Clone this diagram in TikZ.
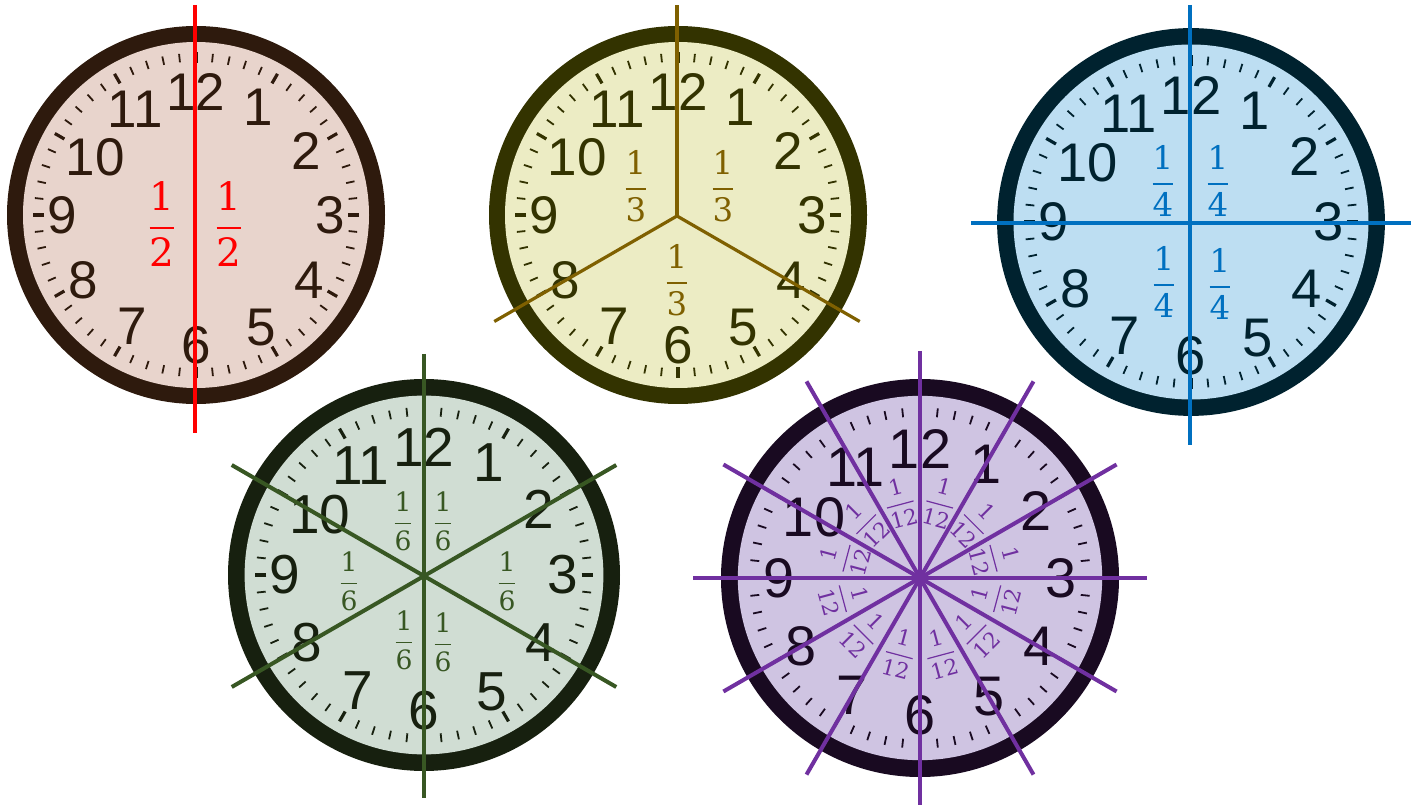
\documentclass[tikz,border=0pt]{standalone}
\usepackage{fontspec}
\usetikzlibrary{calc}
\newfontfamily\clockfont{Liberation Sans}
\newfontfamily\fracfont{DejaVu Serif}
\newcommand\numfont{\clockfont\fontsize{26.5}{26.5}\selectfont}
% #1 math size, #2 digit size, #3 numerator, #4 denominator, #5 bar thickness
\newcommand\fr[5]{\fontsize{#1}{#1}\selectfont$\displaystyle{\hbox{\fracfont\fontsize{#2}{#2}\selectfont #3}\above #5\hbox{\fracfont\fontsize{#2}{#2}\selectfont #4}}$}
\newcommand\frA[2]{\fr{21}{19.5}{#1}{#2}{1pt}}
\newcommand\frB[2]{\fr{18}{16.2}{#1}{#2}{0.85pt}}
\newcommand\frC[2]{\fr{18.5}{16.2}{#1}{#2}{0.85pt}}
\newcommand\frD[2]{\fr{15}{13.3}{#1}{#2}{0.75pt}}
\newcommand\frE[2]{\fr{12}{10.8}{#1}{#2}{0.6pt}}
\definecolor{ringA}{HTML}{2E1A0D}\definecolor{faceA}{HTML}{E8D4CC}\definecolor{lineA}{HTML}{FF0000}
\definecolor{ringB}{HTML}{333300}\definecolor{faceB}{HTML}{ECECC4}\definecolor{lineB}{HTML}{7F6000}
\definecolor{ringC}{HTML}{00222F}\definecolor{faceC}{HTML}{BDDEF2}\definecolor{lineC}{HTML}{0070C0}
\definecolor{ringD}{HTML}{17200F}\definecolor{faceD}{HTML}{D0DDD3}\definecolor{lineD}{HTML}{385723}
\definecolor{ringE}{HTML}{190A21}\definecolor{faceE}{HTML}{CFC4E2}\definecolor{lineE}{HTML}{7030A0}
% #1 name, #2 x px, #3 y px, #4 scale, #5 ring colour, #6 face colour
\newcommand\drawclock[6]{%
  \begin{scope}[shift={(#2,-#3)},scale=#4,transform shape]
    \fill[#5] (0,0) circle (189);
    \fill[#6] (0,0) circle (173);
    \foreach \i in {0,...,59}{%
      \pgfmathtruncatemacro\m{mod(\i,5)}%
      \ifnum\m=0
        \draw[#5,line width=1.6pt] (\i*6:152) -- (\i*6:163);
      \else
        \draw[#5,line width=0.9pt] (\i*6:153.5) -- (\i*6:162);
      \fi
    }
    \foreach \n/\f in {1/0.66,2/0.675,3/0.71,4/0.69,5/0.69,6/0.69,7/0.68,8/0.69,9/0.71,10/0.615,11/0.645,12/0.65}{%
      \node[text=#5,font=\numfont,inner sep=0pt] (#1n\n) at ({90-30*\n}:{189*\f}) {\n};
    }
  \end{scope}}
\tikzset{
  fracA/.style={text=lineA,inner sep=0pt},
  fracB/.style={text=lineB,inner sep=0pt},
  fracC/.style={text=lineC,inner sep=0pt},
  fracD/.style={text=lineD,inner sep=0pt},
  fracE/.style={text=lineE,inner sep=0pt},
  cutA/.style={lineA,line width=1.75pt},
  cutB/.style={lineB,line width=1.6pt},
  cutC/.style={lineC,line width=2pt},
  cutD/.style={lineD,line width=2pt},
  cutE/.style={lineE,line width=2pt},
}
\begin{document}
\begin{tikzpicture}[x=0.5pt,y=0.5pt]
\useasboundingbox (0,0) rectangle (1419,-807);
% clock faces
\drawclock{a}{196}{215}{1}{ringA}{faceA}
\drawclock{b}{678}{215}{1}{ringB}{faceB}
\drawclock{c}{1191}{222}{1.026}{ringC}{faceC}
\drawclock{d}{424}{575}{1.037}{ringD}{faceD}
\drawclock{e}{920}{578}{1.053}{ringE}{faceE}
% centres
\coordinate (A) at (196,-215);
\coordinate (B) at (677,-216);
\coordinate (C) at (1191,-222);
\coordinate (D) at (424,-576);
\coordinate (E) at (920,-578);
% halves
\draw[cutA] (195,-5) -- (195,-433);
\node[fracA] (a1) at ($(A)+(-34,-9)$) {\frA{1}{2}};
\node[fracA] (a2) at ($(A)+(33,-9)$) {\frA{1}{2}};
% thirds
\foreach \a in {90,210,-30} \draw[cutB] (B) -- ++(\a:211);
\node[fracB] (b1) at ($(B)+(-41,30)$) {\frB{1}{3}};
\node[fracB] (b2) at ($(B)+(46,30)$) {\frB{1}{3}};
\node[fracB] (b3) at ($(B)+(0,-64)$) {\frB{1}{3}};
% quarters
\draw[cutC] (1190,-5) -- (1190,-445);
\draw[cutC] (971,-223) -- (1411,-223);
\node[fracC] (c1) at ($(C)+(-28,41)$) {\frC{1}{4}};
\node[fracC] (c2) at ($(C)+(27,41)$) {\frC{1}{4}};
\node[fracC] (c3) at ($(C)+(-27,-60)$) {\frC{1}{4}};
\node[fracC] (c4) at ($(C)+(29,-62)$) {\frC{1}{4}};
% sixths
\foreach \a in {90,30,150} \draw[cutD] (D) ++(\a:222) -- ++(\a+180:444);
\node[fracD] (d1) at ($(D)+(-21,55)$) {\frD{1}{6}};
\node[fracD] (d2) at ($(D)+(19,55)$) {\frD{1}{6}};
\node[fracD] (d3) at ($(D)+(-75,-5)$) {\frD{1}{6}};
\node[fracD] (d4) at ($(D)+(83,-5)$) {\frD{1}{6}};
\node[fracD] (d5) at ($(D)+(-20,-64)$) {\frD{1}{6}};
\node[fracD] (d6) at ($(D)+(19,-66)$) {\frD{1}{6}};
% twelfths
\foreach \a in {0,30,...,150} \draw[cutE] (E) ++(\a:227) -- ++(\a+180:454);
\foreach \k/\t/\r in {1/15/-75,2/45/-45,3/75/-15,4/105/15,5/135/45,6/165/75,7/195/-75,8/225/-45,9/255/-15,10/285/15,11/315/45,12/345/75}
  \node[fracE,rotate=\r] (e\k) at ($(E)+(\t:78)$) {\frE{1}{12}};
\end{tikzpicture}
\end{document}
